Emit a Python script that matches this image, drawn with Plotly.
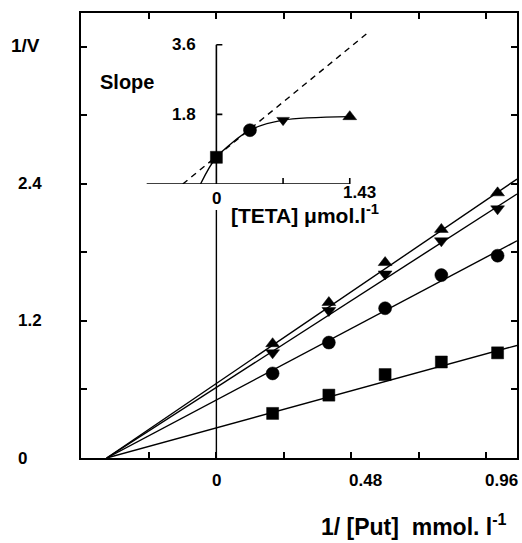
import plotly.graph_objects as go

# ---- main Lineweaver-Burk data ----
put_inv = [0.2, 0.4, 0.6, 0.8, 1.0]
v_square = [0.39, 0.55, 0.73, 0.84, 0.92]
v_circle = [0.74, 1.01, 1.31, 1.60, 1.77]
v_down = [0.92, 1.29, 1.61, 1.90, 2.18]
v_up = [1.00, 1.36, 1.71, 2.00, 2.32]

fit_x = [-0.39, 1.069]
fit_square = [0.0, 0.985]
fit_circle = [0.0, 1.90]
fit_down = [0.0, 2.31]
fit_up = [0.0, 2.44]

x_ticks = [-0.24, 0, 0.24, 0.48, 0.72, 0.96]
x_labels = ["0", "0.48", "0.96"]
x_label_vals = [0, 0.48, 0.96]
y_ticks = [0.6, 1.2, 1.8, 2.4, 3.0, 3.6]
y_labels = ["0", "1.2", "2.4"]
y_label_vals = [0, 1.2, 2.4]

# ---- inset (slope replot) data ----
teta = [0, 0.36, 0.715, 1.43]
slope = [0.69, 1.39, 1.65, 1.74]
slope_symbols = ["square", "circle", "triangle-down", "triangle-up"]
slope_sizes = [12, 13, 11, 12]
curve_x = [-0.17, 0, 0.36, 0.715, 1.43]
curve_y = [0, 0.69, 1.39, 1.65, 1.74]
dash_x = [-0.36, 1.61]
dash_y = [0, 3.88]
inset_y_ticks = [1.8, 3.6]
inset_y_labels = ["1.8", "3.6"]
inset_x_ticks = [0.715, 1.43]

W, H = 522, 543
# plot area in screen pixels
SX0, SX1, SY0, SY1 = 81, 519, 13, 458
L, R, T, B = SX0, W - SX1, SY0, H - SY1
PW, PH = SX1 - SX0, SY1 - SY0


def px_x(px):
    return (px - SX0) / PW


def px_y(py):
    return (SY1 - py) / PH


FONT = "Liberation Sans"
BLACK = "#000000"
fig = go.Figure()

series = [
    (v_square, fit_square, "square", 12),
    (v_circle, fit_circle, "circle", 13),
    (v_down, fit_down, "triangle-down", 12),
    (v_up, fit_up, "triangle-up", 12),
]
for vals, fit, sym, sz in series:
    fig.add_trace(go.Scatter(x=fit_x, y=fit, mode="lines",
                             line=dict(color=BLACK, width=1.4),
                             showlegend=False, hoverinfo="skip"))
    fig.add_trace(go.Scatter(x=put_inv, y=vals, mode="markers",
                             marker=dict(symbol=sym, size=sz, color=BLACK, opacity=1,
                                         line=dict(color=BLACK, width=0.5)),
                             showlegend=False))

# inset traces
fig.add_trace(go.Scatter(x=dash_x, y=dash_y, mode="lines", xaxis="x2", yaxis="y2",
                         line=dict(color=BLACK, width=1.4, dash="6px,5px"),
                         showlegend=False, hoverinfo="skip"))
fig.add_trace(go.Scatter(x=curve_x, y=curve_y, mode="lines", xaxis="x2", yaxis="y2",
                         line=dict(color=BLACK, width=1.4, shape="spline", smoothing=0.8),
                         showlegend=False, hoverinfo="skip"))
fig.add_trace(go.Scatter(x=teta, y=slope, mode="markers", xaxis="x2", yaxis="y2",
                         marker=dict(symbol=slope_symbols, size=slope_sizes, color=BLACK,
                                     opacity=1, line=dict(color=BLACK, width=0.5)),
                         cliponaxis=False, showlegend=False))

# inset axis: data-coordinate shapes
ppx_in = 93.7
ppy_in = 38.7
inset_left = (147 - 217) / ppx_in
shapes = []
lw = 1.6
shapes.append(dict(type="line", xref="x2", yref="y2", x0=0, x1=0, y0=0, y1=3.6,
                   line=dict(color=BLACK, width=lw)))
shapes.append(dict(type="line", xref="x2", yref="y2", x0=inset_left, x1=1.43, y0=0, y1=0,
                   line=dict(color=BLACK, width=lw)))
for t in inset_y_ticks:
    shapes.append(dict(type="line", xref="x2", yref="y2", x0=0, x1=6 / ppx_in, y0=t, y1=t,
                       line=dict(color=BLACK, width=lw)))
for t in inset_x_ticks:
    shapes.append(dict(type="line", xref="x2", yref="y2", x0=t, x1=t, y0=0, y1=6 / ppy_in,
                       line=dict(color=BLACK, width=lw)))
# main vertical line at x = 0
ppy_main = 114.3
shapes.append(dict(type="line", xref="x", yref="y", x0=0, x1=0, y0=0, y1=(458 - 210) / ppy_main,
                   line=dict(color=BLACK, width=1.4)))

ann = []
fs = 17


def A(**kw):
    kw.setdefault("showarrow", False)
    kw.setdefault("xanchor", "center")
    kw.setdefault("yanchor", "middle")
    ann.append(kw)


for lab, v in zip(y_labels, y_label_vals):
    A(text=f"<b>{lab}</b>", xref="paper", yref="y", x=px_x(16), y=v, xanchor="left",
      font=dict(size=fs, family=FONT, color=BLACK))
x_shifts = [0, 14, 15]
for lab, v, s in zip(x_labels, x_label_vals, x_shifts):
    A(text=f"<b>{lab}</b>", xref="x", yref="paper", x=v, y=px_y(480), xshift=s,
      font=dict(size=fs, family=FONT, color=BLACK))
A(text="<b>1/V</b>", xref="paper", yref="paper", x=px_x(25), y=px_y(45),
  font=dict(size=19, family=FONT, color=BLACK))
A(text="<b>1/ [Put]  mmol. l<sup>-1</sup></b>", xref="paper", yref="paper",
  x=px_x(416), y=px_y(525), font=dict(size=23, family=FONT, color=BLACK))
# inset labels
A(text="<b>Slope</b>", xref="paper", yref="paper", x=px_x(127), y=px_y(82),
  font=dict(size=20, family=FONT, color=BLACK))
for lab, v in zip(inset_y_labels, inset_y_ticks):
    A(text=f"<b>{lab}</b>", xref="paper", yref="y2", x=px_x(184), y=v,
      font=dict(size=fs, family=FONT, color=BLACK))
A(text="<b>0</b>", xref="x2", yref="paper", x=0, y=px_y(198),
  font=dict(size=fs, family=FONT, color=BLACK))
A(text="<b>1.43</b>", xref="x2", yref="paper", x=1.43, y=px_y(192), xshift=10,
  font=dict(size=fs, family=FONT, color=BLACK))
A(text="<b>[TETA] μmol.l<sup>-1</sup></b>", xref="paper", yref="paper",
  x=px_x(306), y=px_y(214), font=dict(size=21, family=FONT, color=BLACK))

in_x0, in_x1 = 140, 380
in_top, in_bot = 25, 184

fig.update_layout(
    width=W, height=H,
    margin=dict(l=L, r=R, t=T, b=B, pad=0),
    paper_bgcolor="white", plot_bgcolor="white",
    showlegend=False,
    xaxis=dict(range=[(SX0 - 217) / 282.5, (SX1 - 217) / 282.5], tickvals=x_ticks,
               showticklabels=False, ticks="inside", ticklen=6, tickwidth=1.5,
               tickcolor=BLACK, showline=True, linecolor=BLACK, linewidth=2,
               mirror="allticks", showgrid=False, zeroline=False),
    yaxis=dict(range=[0, PH / ppy_main], tickvals=y_ticks,
               showticklabels=False, ticks="inside", ticklen=6, tickwidth=1.5,
               tickcolor=BLACK, showline=True, linecolor=BLACK, linewidth=2,
               mirror="allticks", showgrid=False, zeroline=False),
    xaxis2=dict(domain=[px_x(in_x0), px_x(in_x1)],
                range=[(in_x0 - 217) / ppx_in, (in_x1 - 217) / ppx_in],
                anchor="y2", visible=False),
    yaxis2=dict(domain=[px_y(in_bot), px_y(in_top)],
                range=[0, (in_bot - in_top) / ppy_in],
                anchor="x2", visible=False),
    shapes=shapes,
    annotations=ann,
)

fig.write_html(
    "out.html",
    config={"displayModeBar": False},
    post_script="document.body.style.margin='0';document.body.style.overflow='hidden';",
)
